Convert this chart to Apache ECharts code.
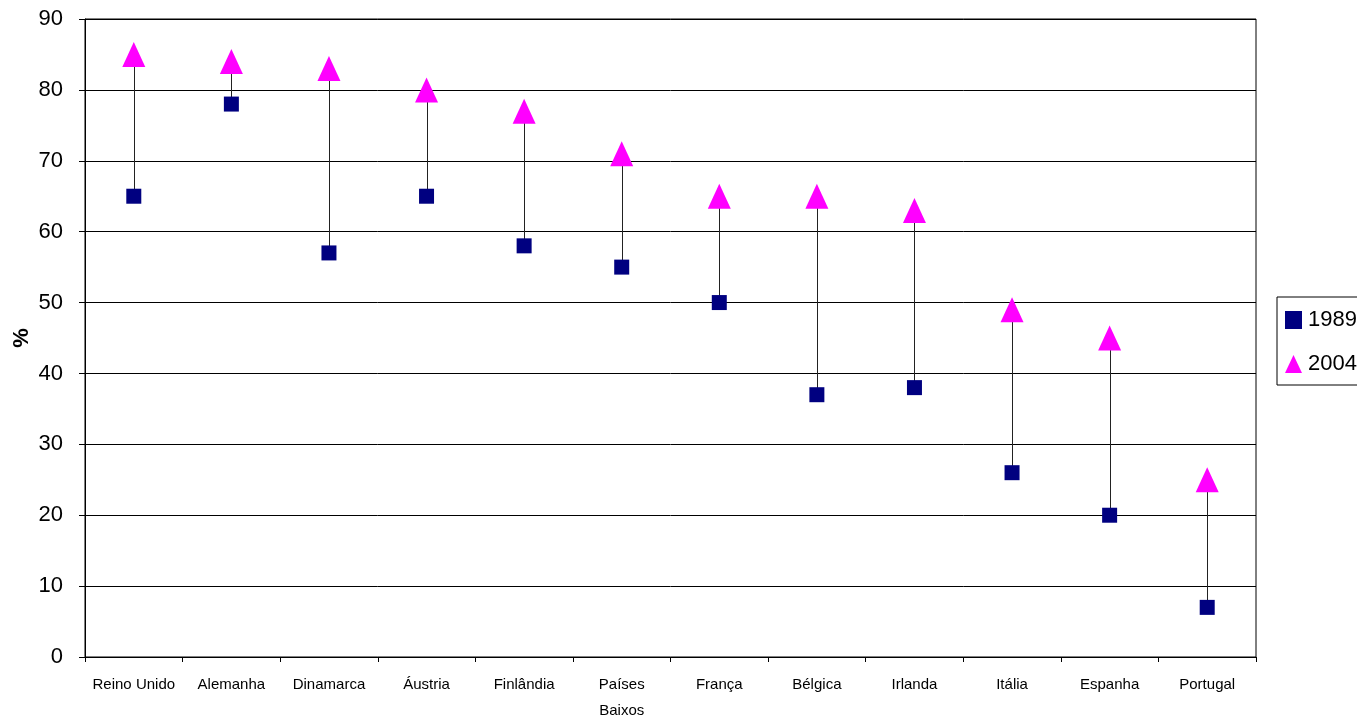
<!DOCTYPE html>
<html>
<head>
<meta charset="utf-8">
<script src="https://cdn.jsdelivr.net/npm/echarts@6/dist/echarts.min.js"></script>
<style>html,body{margin:0;padding:0;background:#fff;}#c{width:1357px;height:720px;}</style>
</head>
<body>
<div id="c"></div>
<script>
const categories = ['Reino Unido','Alemanha','Dinamarca','Áustria','Finlândia','Países\nBaixos','França','Bélgica','Irlanda','Itália','Espanha','Portugal'];
const values1989 = [65, 78, 57, 65, 58, 55, 50, 37, 38, 26, 20, 7];
const values2004 = [85, 84, 83, 80, 77, 71, 65, 65, 63, 49, 45, 25];
const seriesNames = ['1989', '2004'];
const yTicks = { min: 0, max: 90, interval: 10 };

const rangeData = categories.map((c, i) => [i, values1989[i], values2004[i]]);

const chart = echarts.init(document.getElementById('c'), null, { renderer: 'canvas' });
chart.setOption({
  animation: false,
  backgroundColor: '#ffffff',
  grid: { left: 85, top: 19, right: 101, bottom: 63, outerBoundsMode: 'none', containLabel: false, show: true, borderColor: '#000', borderWidth: 1, backgroundColor: 'transparent' },
  legend: {
    orient: 'vertical',
    left: 1277, top: 297,
    padding: [12, 8, 10, 8],
    itemGap: 22,
    itemWidth: 17, itemHeight: 18,
    borderColor: '#000', borderWidth: 1,
    textStyle: { fontFamily: 'Liberation Sans, Arial, sans-serif', fontSize: 22, color: '#000', padding: [0, 0, 0, 1] },
    data: seriesNames
  },
  xAxis: {
    type: 'category',
    data: categories,
    boundaryGap: true,
    axisLine: { lineStyle: { color: '#000', width: 1 } },
    axisTick: { show: true, length: 5, alignWithLabel: false, lineStyle: { color: '#000' } },
    axisLabel: { interval: 0, margin: 15, fontFamily: 'Liberation Sans Narrow, Arial Narrow, Liberation Sans, sans-serif', fontSize: 15, color: '#000', lineHeight: 26 },
    splitLine: { show: false }
  },
  yAxis: {
    type: 'value',
    min: yTicks.min, max: yTicks.max, interval: yTicks.interval,
    name: '%',
    nameLocation: 'middle',
    nameGap: 52,
    nameMoveOverlap: false,
    nameRotate: 90,
    nameTextStyle: { fontFamily: 'Liberation Sans, Arial, sans-serif', fontSize: 22, fontWeight: 'bold', color: '#000' },
    axisLine: { show: true, lineStyle: { color: '#000', width: 1 } },
    axisTick: { show: true, length: 6, lineStyle: { color: '#000' } },
    axisLabel: { margin: 22, fontFamily: 'Liberation Sans, Arial, sans-serif', fontSize: 22, color: '#000' },
    splitLine: { show: true, lineStyle: { color: '#000', width: 1 } }
  },
  series: [
    {
      type: 'custom',
      name: 'range',
      data: rangeData,
      z: 1,
      silent: true,
      renderItem: function (params, api) {
        const x = api.value(0);
        const p1 = api.coord([x, api.value(1)]);
        const p2 = api.coord([x, api.value(2)]);
        return {
          type: 'line',
          shape: { x1: Math.round(p1[0]) + 0.5, y1: p1[1], x2: Math.round(p2[0]) + 0.5, y2: p2[1] },
          style: { stroke: '#222', lineWidth: 1 }
        };
      }
    },
    {
      type: 'scatter',
      name: seriesNames[0],
      data: values1989,
      symbol: 'rect',
      symbolSize: 15,
      itemStyle: { color: '#000080', opacity: 1 },
      z: 3
    },
    {
      type: 'scatter',
      name: seriesNames[1],
      data: values2004,
      symbol: 'triangle',
      symbolSize: [23, 25],
      itemStyle: { color: '#FF00FF', opacity: 1 },
      z: 4
    }
  ]
});
</script>
</body>
</html>
